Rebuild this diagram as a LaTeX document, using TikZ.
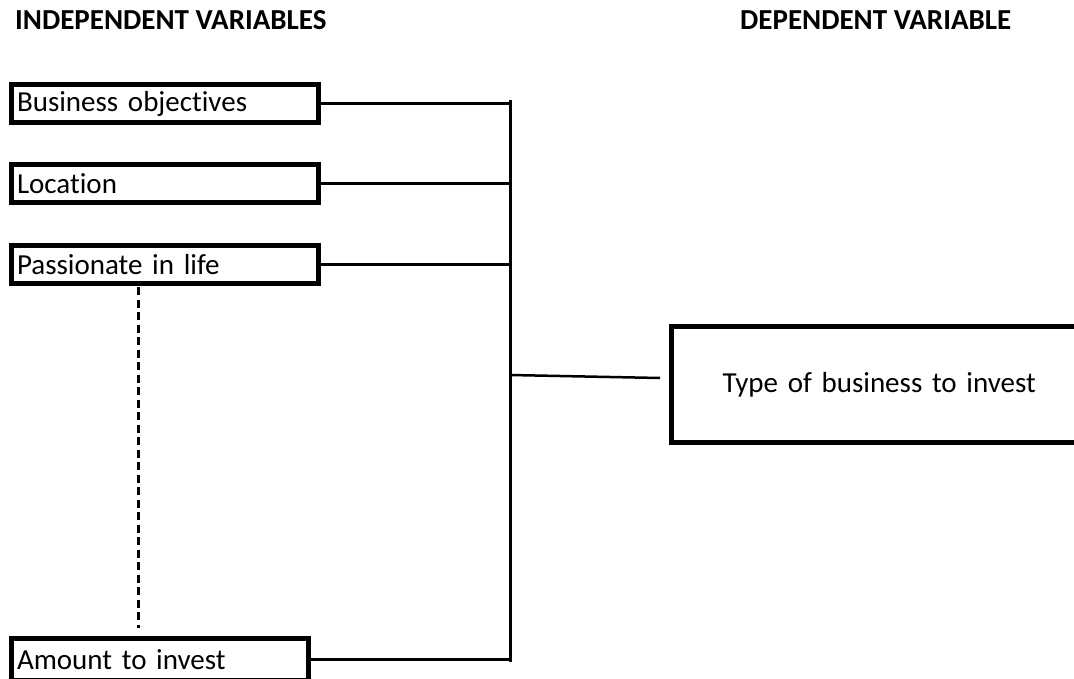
\documentclass[tikz,border=0pt]{standalone}
\usepackage{fontspec}
\setmainfont{Carlito}[Ligatures=NoCommon]
\begin{document}
\begin{tikzpicture}[x=1pt,y=-1pt,
  ibox/.style={draw, line width=5pt, rectangle, anchor=north west, minimum height=38pt,
    inner xsep=6pt, inner ysep=0pt, align=left, font=\fontsize{29}{32}\selectfont},
  dbox/.style={draw, line width=5pt, rectangle, anchor=north west, minimum height=116pt,
    inner xsep=51pt, inner ysep=0pt, align=left, text width=330pt, font=\fontsize{29}{32}\selectfont},
  hdr/.style={anchor=west, inner sep=0pt, font=\bfseries\fontsize{29}{32}\selectfont},
  conn/.style={line width=2.5pt},
  spine/.style={line width=3pt},
  dashline/.style={line width=3pt, dash pattern=on 8pt off 4.5pt}]
\clip (0,0) rectangle (1074,679);
\useasboundingbox (0,0) rectangle (1074,679);

\node[hdr] (h1) at (15,20) {INDEPENDENT VARIABLES};
\node[hdr] (h2) at (740,20) {DEPENDENT VARIABLE};

\node[ibox, text width=295pt] (b1) at (8.5,82) {Business objectives};
\node[ibox, text width=295pt] (b2) at (8.5,162) {Location};
\node[ibox, text width=295pt] (b3) at (8.5,243) {Passionate in life};
\node[ibox, text width=285pt, minimum height=42pt] (b4) at (8.5,636) {Amount to invest};

\node[dbox] (d) at (669,324) {Type of business to invest};

\coordinate (st) at (510,100);
\coordinate (sb) at (510,662);
\coordinate (sm) at (510,375);
\coordinate (de) at (660,378);
\draw[spine] (st) -- (sb);
\draw[conn] (b1.east) -- (b1.east -| st);
\draw[conn] (b2.east) -- (b2.east -| st);
\draw[conn] (b3.east) -- (b3.east -| st);
\draw[conn] (b4.east) -- (b4.east -| st);
\draw[conn] (sm) -- (de);

\coordinate (dt) at (138,287);
\coordinate (db) at (138,628);
\draw[dashline] (dt) -- (db);
\end{tikzpicture}
\end{document}
